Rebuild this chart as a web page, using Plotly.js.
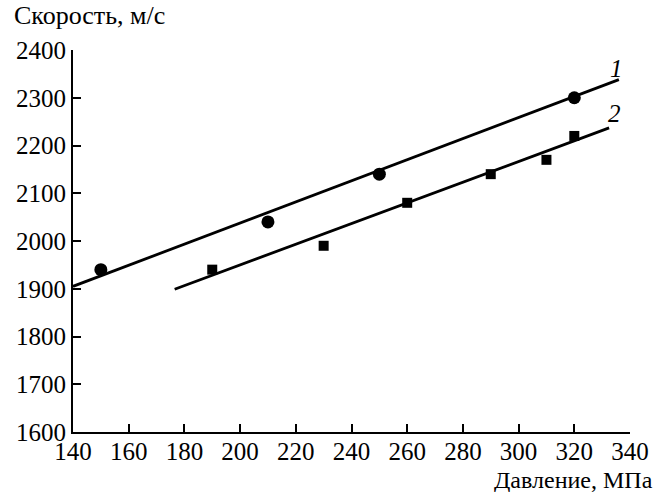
<!DOCTYPE html>
<html>
<head>
<meta charset="utf-8">
<script src="https://cdn.plot.ly/plotly-3.0.1.min.js"></script>
<style>html,body{margin:0;padding:0;background:#fff;}#chart{width:664px;height:492px;}</style>
</head>
<body>
<div id="chart"></div>
<script>
// Series 1 (circles)
const pressure1 = [150, 210, 250, 320];
const speed1 = [1940, 2040, 2140, 2300];
// Series 2 (squares)
const pressure2 = [190, 230, 260, 290, 310, 320];
const speed2 = [1940, 1990, 2080, 2140, 2170, 2220];
// Fitted lines (endpoints)
const fit1X = [140, 336];
const fit1Y = [1905, 2338];
const fit2X = [176.5, 332.5];
const fit2Y = [1899, 2237];
// Ticks
const xTicks = [140, 160, 180, 200, 220, 240, 260, 280, 300, 320, 340];
const yTicks = [1600, 1700, 1800, 1900, 2000, 2100, 2200, 2300, 2400];
const curveLabels = ["1", "2"];
const yTitle = "Скорость, м/с";
const xTitle = "Давление, МПа";

const font = "'Liberation Serif', 'DejaVu Serif', serif";

const traces = [
  {x: fit1X, y: fit1Y, mode: "lines", line: {color: "#000", width: 2.8}, hoverinfo: "skip"},
  {x: fit2X, y: fit2Y, mode: "lines", line: {color: "#000", width: 2.8}, hoverinfo: "skip"},
  {x: pressure1, y: speed1, mode: "markers", marker: {symbol: "circle", size: 13, color: "#000"}},
  {x: pressure2, y: speed2, mode: "markers", marker: {symbol: "square", size: 10, color: "#000"}}
];

const layout = {
  width: 664, height: 492,
  margin: {l: 73, r: 34, t: 50, b: 60},
  showlegend: false,
  paper_bgcolor: "#fff", plot_bgcolor: "#fff",
  font: {family: font, size: 23, color: "#000"},
  xaxis: {
    range: [140, 340], tickvals: xTicks, ticktext: xTicks.map(String),
    showgrid: false, zeroline: false, showline: true, linecolor: "#000", linewidth: 2,
    ticks: "inside", ticklen: 8, tickwidth: 2, tickcolor: "#000",
    ticklabelstandoff: -4,
    tickfont: {family: font, size: 25, color: "#000"}
  },
  yaxis: {
    range: [1600, 2400], tickvals: yTicks, ticktext: yTicks.map(String),
    showgrid: false, zeroline: false, showline: true, linecolor: "#000", linewidth: 2,
    ticks: "inside", ticklen: 8, tickwidth: 2, tickcolor: "#000",
    tickfont: {family: font, size: 25, color: "#000"}
  },
  annotations: [
    {text: yTitle, xref: "paper", yref: "paper", x: -0.11, y: 1.09, xanchor: "left", yanchor: "middle", showarrow: false, font: {family: font, size: 26, color: "#000"}},
    {text: xTitle, xref: "paper", yref: "paper", x: 1.045, y: -0.125, xanchor: "right", yanchor: "middle", showarrow: false, font: {family: font, size: 24, color: "#000"}},
    {text: curveLabels[0], xref: "x", yref: "y", x: 335, y: 2362, showarrow: false, font: {family: font, size: 25, color: "#000", style: "italic"}},
    {text: curveLabels[1], xref: "x", yref: "y", x: 334.5, y: 2268, showarrow: false, font: {family: font, size: 25, color: "#000", style: "italic"}}
  ]
};

Plotly.newPlot("chart", traces, layout, {displayModeBar: false, staticPlot: true});
</script>
</body>
</html>
